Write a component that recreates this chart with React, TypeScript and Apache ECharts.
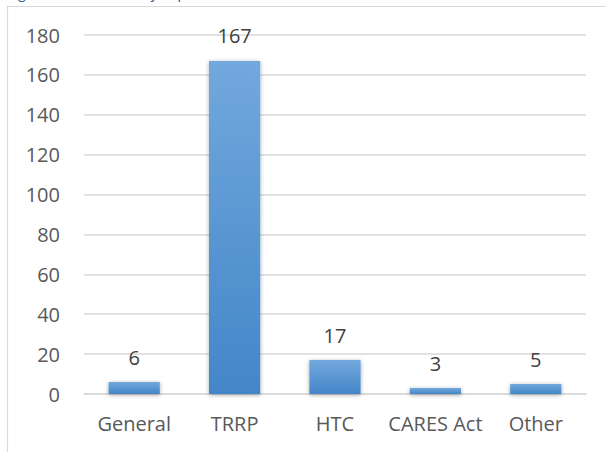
import React, { useEffect, useRef } from "react";
import * as echarts from "echarts";

const categories = ["General", "TRRP", "HTC", "CARES Act", "Other"];
const counts = [6, 167, 17, 3, 5];
const yTicks = { min: 0, max: 180, interval: 20 };
const captionText = "Figure 3: Comments by Topic";

export default function App() {
  const ref = useRef<HTMLDivElement>(null);

  useEffect(() => {
    if (!ref.current) return;
    const chart = echarts.init(ref.current, null, { renderer: "svg" });
    const font = "'Open Sans', 'Noto Sans', sans-serif";
    chart.setOption({
      animation: false,
      backgroundColor: "#ffffff",
      graphic: [
        {
          type: "rect",
          shape: { x: 7.5, y: 6.5, width: 640, height: 480 },
          style: { fill: "none", stroke: "#d9d9d9", lineWidth: 1.2 },
          silent: true,
          z: -10,
        },
        {
          type: "text",
          x: 8,
          y: -16,
          style: {
            text: captionText,
            fill: "#2e5597",
            font: "italic 15px 'Open Sans', sans-serif",
          },
          silent: true,
        },
      ],
      grid: { left: 84, right: 20, top: 35, bottom: 58, containLabel: false },
      xAxis: {
        type: "category",
        data: categories,
        axisLine: { show: true, lineStyle: { color: "#d9d9d9", width: 1.5 } },
        axisTick: { show: false },
        axisLabel: {
          interval: 0,
          color: "#595959",
          fontFamily: font,
          fontSize: 20,
          margin: 19,
        },
      },
      yAxis: {
        type: "value",
        min: yTicks.min,
        max: yTicks.max,
        interval: yTicks.interval,
        axisLine: { show: false },
        axisTick: { show: false },
        splitLine: { lineStyle: { color: "#d9d9d9", width: 1.5 } },
        axisLabel: {
          color: "#595959",
          fontFamily: font,
          fontSize: 20,
          margin: 24,
        },
      },
      series: [
        {
          type: "bar",
          data: counts,
          barWidth: "51%",
          itemStyle: {
            color: new echarts.graphic.LinearGradient(0, 0, 0, 1, [
              { offset: 0, color: "#72a8dd" },
              { offset: 1, color: "#4386c8" },
            ]),
            shadowColor: "rgba(0,0,0,0.35)",
            shadowBlur: 4,
            shadowOffsetY: 1,
          },
          label: {
            show: true,
            position: "top",
            distance: 15,
            color: "#404040",
            fontFamily: font,
            fontSize: 20,
          },
        },
      ],
    });
    return () => chart.dispose();
  }, []);

  return (
    <div
      ref={ref}
      style={{ position: "fixed", left: 0, top: 0, width: 606, height: 452 }}
    />
  );
}
